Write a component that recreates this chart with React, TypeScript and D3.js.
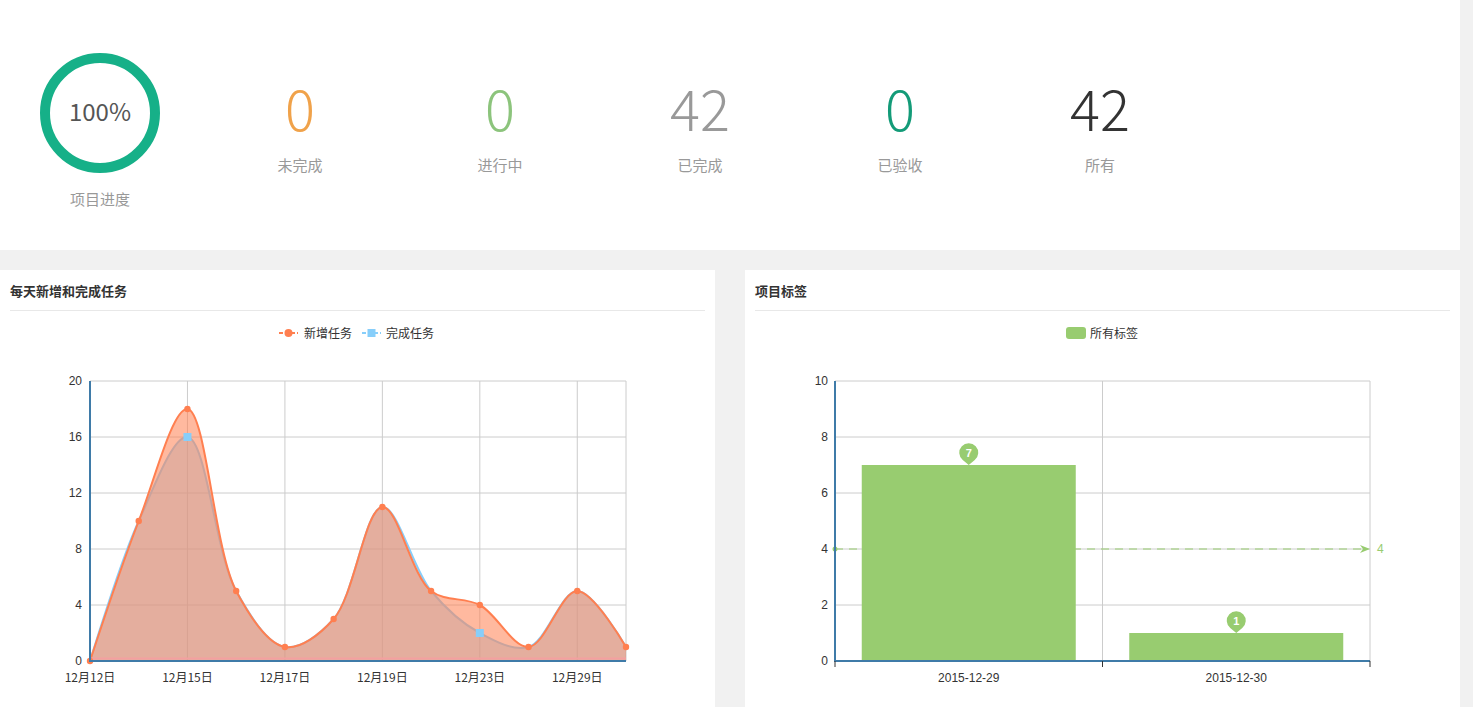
import React from 'react';
import * as d3 from 'd3';

// ---- data ----
const statValues = [0, 0, 42, 0, 42];
const statLabels = ['未完成', '进行中', '已完成', '已验收', '所有'];
const statColors = ['#f0a24a', '#8cc47c', '#999999', '#139b78', '#333333'];
const progressPct = 100;

const dayCategories = ['12月12日', '12月14日', '12月15日', '12月16日', '12月17日', '12月18日', '12月19日', '12月21日', '12月23日', '12月24日', '12月29日', '12月30日'];
const newTasks = [0, 10, 18, 5, 1, 3, 11, 5, 4, 1, 5, 1];
const doneTasks = [0, 10, 16, 5, 1, 3, 11, 5, 2, 1, 5, 1];
const lineYTicks = [0, 4, 8, 12, 16, 20];

const tagCategories = ['2015-12-29', '2015-12-30'];
const tagValues = [7, 1];
const tagAverage = 4;
const barYTicks = [0, 2, 4, 6, 8, 10];

const CJK = '"Noto Sans CJK SC", "Liberation Sans", sans-serif';
const LAT = '"Liberation Sans", "Noto Sans CJK SC", sans-serif';
const AXIS = '#3f7ba8';
const GRID = '#cccccc';
const CORAL = '#ff7f50';
const SKY = '#87cefa';
const GREEN = '#98cc70';

function LineChart() {
  const x = d3.scalePoint<string>().domain(dayCategories).range([90, 626]);
  const y = d3.scaleLinear().domain([0, 20]).range([661, 381]);
  const curve = d3.curveCatmullRom.alpha(0.5);
  const areaOf = (vals: number[]) =>
    d3.area<number>().x((_, i) => x(dayCategories[i])!).y0(y(0)).y1(d => y(d)).curve(curve)(vals)!;
  const lineOf = (vals: number[]) =>
    d3.line<number>().x((_, i) => x(dayCategories[i])!).y(d => y(d)).curve(curve)(vals)!;
  const labelIdx = dayCategories.map((_, i) => i).filter(i => i % 2 === 0);
  return (
    <g>
      {/* grid */}
      {lineYTicks.map(t => (
        <line key={'h' + t} x1={90} x2={626} y1={y(t)} y2={y(t)} stroke={GRID} />
      ))}
      {labelIdx.slice(1).map(i => (
        <line key={'v' + i} x1={x(dayCategories[i])} x2={x(dayCategories[i])} y1={381} y2={661} stroke={GRID} />
      ))}
      <line x1={626} x2={626} y1={381} y2={661} stroke={GRID} />
      {/* areas */}
      <path d={areaOf(doneTasks)} fill={SKY} fillOpacity={0.5} />
      <path d={lineOf(doneTasks)} fill="none" stroke={SKY} strokeWidth={2} />
      <path d={areaOf(newTasks)} fill={CORAL} fillOpacity={0.55} />
      <path d={lineOf(newTasks)} fill="none" stroke={CORAL} strokeWidth={2} />
      <line x1={90} x2={626} y1={658.5} y2={658.5} stroke="#f3a0a0" strokeWidth={2} />
      {/* symbols */}
      {newTasks.map((v, i) => (
        <circle key={'o' + i} cx={x(dayCategories[i])} cy={y(v)} r={3.2} fill={CORAL} />
      ))}
      {doneTasks.map((v, i) =>
        v !== newTasks[i] ? (
          <rect key={'s' + i} x={x(dayCategories[i])! - 4} y={y(v) - 4} width={8} height={8} fill={SKY} />
        ) : null
      )}
      {/* axes */}
      <line x1={90} x2={90} y1={381} y2={662} stroke={AXIS} strokeWidth={2} />
      <line x1={89} x2={626} y1={661} y2={661} stroke={AXIS} strokeWidth={2} />
      {lineYTicks.map(t => (
        <text key={'yl' + t} x={82} y={y(t) + 4} textAnchor="end" fontSize={12} fill="#333" fontFamily={LAT}>{t}</text>
      ))}
      {labelIdx.map(i => (
        <text key={'xl' + i} x={x(dayCategories[i])} y={682} textAnchor="middle" fontSize={12} fill="#333" fontFamily={CJK}>{dayCategories[i]}</text>
      ))}
      {/* legend */}
      <line x1={279} x2={298} y1={333} y2={333} stroke={CORAL} strokeWidth={2} strokeDasharray="4,2" />
      <circle cx={288.5} cy={333} r={4} fill={CORAL} />
      <text x={304} y={337.5} fontSize={12} fill="#333" fontFamily={CJK}>新增任务</text>
      <line x1={362} x2={381} y1={333} y2={333} stroke={SKY} strokeWidth={2} strokeDasharray="4,2" />
      <rect x={367.5} y={329} width={8} height={8} fill={SKY} />
      <text x={386} y={337.5} fontSize={12} fill="#333" fontFamily={CJK}>完成任务</text>
    </g>
  );
}

function pinPath(cx: number, tipY: number) {
  const r = 9.5;
  const cy = tipY - 12;
  return `M${cx},${tipY} L${cx - 6},${cy + 7} A${r},${r} 0 1 1 ${cx + 6},${cy + 7} Z`;
}

function BarChart() {
  const x = d3.scaleBand<string>().domain(tagCategories).range([835, 1370]);
  const y = d3.scaleLinear().domain([0, 10]).range([661, 381]);
  const bw = x.bandwidth() * 0.8;
  const avgY = y(tagAverage);
  return (
    <g>
      {barYTicks.map(t => (
        <line key={'h' + t} x1={835} x2={1370} y1={y(t)} y2={y(t)} stroke={GRID} />
      ))}
      {tagCategories.slice(1).map(c => (
        <line key={'v' + c} x1={x(c)} x2={x(c)} y1={381} y2={661} stroke={GRID} />
      ))}
      <line x1={1370} x2={1370} y1={381} y2={661} stroke={GRID} />
      {tagValues.map((v, i) => {
        const c = tagCategories[i];
        const bx = x(c)! + (x.bandwidth() - bw) / 2;
        return <rect key={c} x={bx} y={y(v)} width={bw} height={y(0) - y(v)} fill={GREEN} />;
      })}
      {/* average mark line */}
      <line x1={835} x2={1366} y1={avgY} y2={avgY} stroke={GREEN} strokeWidth={1.2} strokeDasharray="8,6" />
      <path d={`M1360,${avgY - 4} L1370,${avgY} L1360,${avgY + 4} L1363,${avgY} Z`} fill={GREEN} />
      <circle cx={835} cy={avgY} r={2.5} fill={GREEN} />
      <text x={1377} y={avgY + 4} fontSize={12} fill={GREEN} fontFamily={LAT}>{tagAverage}</text>
      {/* pins */}
      {tagValues.map((v, i) => {
        const cx = x(tagCategories[i])! + x.bandwidth() / 2;
        const tip = y(v);
        return (
          <g key={'p' + i}>
            <path d={pinPath(cx, tip)} fill={GREEN} />
            <text x={cx} y={tip - 8} textAnchor="middle" fontSize={11} fontWeight="bold" fill="#fff" fontFamily={LAT}>{v}</text>
          </g>
        );
      })}
      {/* axes */}
      <line x1={835} x2={835} y1={381} y2={662} stroke={AXIS} strokeWidth={2} />
      <line x1={834} x2={1370} y1={661} y2={661} stroke={AXIS} strokeWidth={2} />
      {[835, 1102.5, 1370].map(tx => (
        <line key={'t' + tx} x1={tx} x2={tx} y1={661} y2={667} stroke="#333" />
      ))}
      {barYTicks.map(t => (
        <text key={'yl' + t} x={828} y={y(t) + 4} textAnchor="end" fontSize={12} fill="#333" fontFamily={LAT}>{t}</text>
      ))}
      {tagCategories.map(c => (
        <text key={'xl' + c} x={x(c)! + x.bandwidth() / 2} y={682} textAnchor="middle" fontSize={12} fill="#333" fontFamily={LAT}>{c}</text>
      ))}
      {/* legend */}
      <rect x={1066} y={327} width={20} height={12} rx={3} fill={GREEN} />
      <text x={1090} y={337.5} fontSize={12} fill="#333" fontFamily={CJK}>所有标签</text>
    </g>
  );
}

export default function App() {
  return (
    <svg width={1473} height={707} style={{ position: 'absolute', left: 0, top: 0 }}>
      <rect x={0} y={0} width={1473} height={707} fill="#f1f1f1" />
      <rect x={0} y={0} width={1460} height={250} fill="#fff" />
      <rect x={0} y={270} width={715} height={437} fill="#fff" />
      <rect x={745} y={270} width={715} height={437} fill="#fff" />
      {/* progress ring */}
      <circle cx={100} cy={113} r={55} fill="none" stroke="#16b088" strokeWidth={10} />
      <text x={100} y={121} textAnchor="middle" fontSize={24} fill="#555" fontFamily={CJK}>{progressPct}%</text>
      <text x={100} y={205} textAnchor="middle" fontSize={15} fill="#999" fontFamily={CJK}>项目进度</text>
      {statValues.map((v, i) => (
        <g key={statLabels[i]}>
          <text x={300 + i * 200} y={131} textAnchor="middle" fontSize={56} fontWeight={300} fill={statColors[i]} fontFamily={CJK}>{v}</text>
          <text x={300 + i * 200} y={171} textAnchor="middle" fontSize={15} fill="#999" fontFamily={CJK}>{statLabels[i]}</text>
        </g>
      ))}
      {/* panel titles */}
      <text x={10} y={296} fontSize={13} fontWeight="bold" fill="#333" fontFamily={CJK}>每天新增和完成任务</text>
      <line x1={10} x2={705} y1={310.5} y2={310.5} stroke="#e8e8e8" />
      <text x={755} y={296} fontSize={13} fontWeight="bold" fill="#333" fontFamily={CJK}>项目标签</text>
      <line x1={755} x2={1450} y1={310.5} y2={310.5} stroke="#e8e8e8" />
      <LineChart />
      <BarChart />
    </svg>
  );
}
